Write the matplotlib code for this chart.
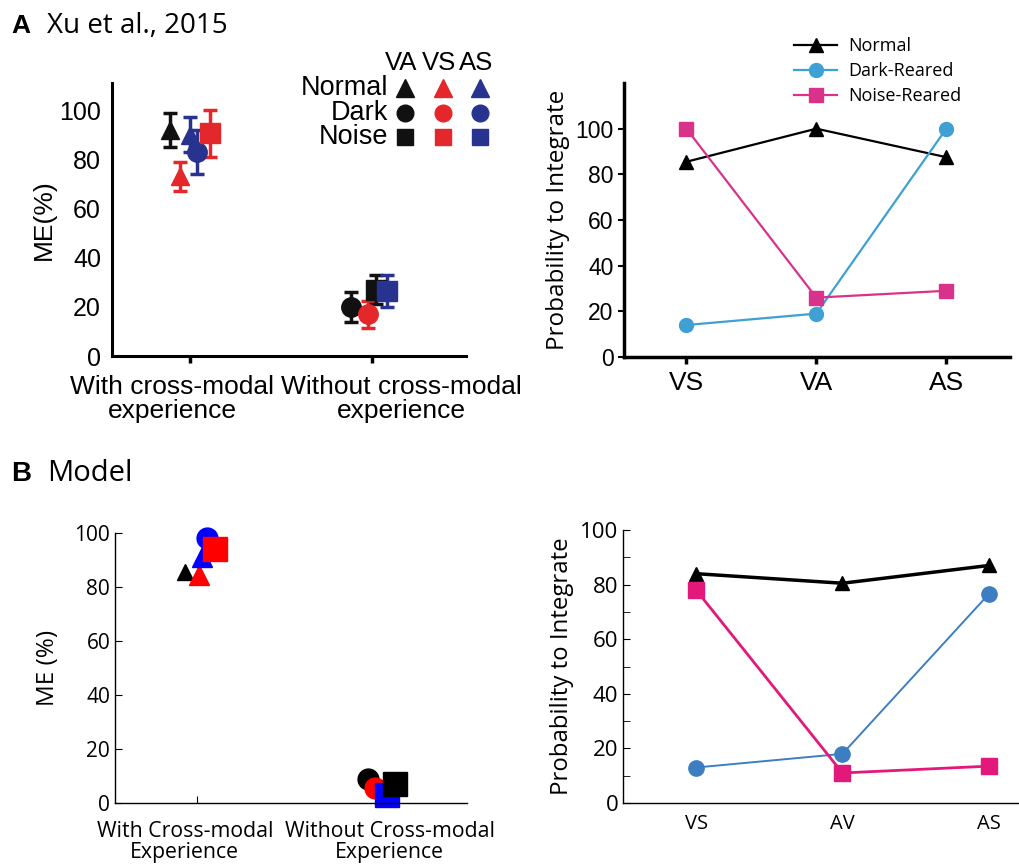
import numpy as np
import matplotlib.pyplot as plt
from matplotlib.ticker import MultipleLocator

W, H = 1019, 865
ARIAL = 'Liberation Sans'
MYRIAD = 'Open Sans'

# ---- Panel A left: Xu et al. 2015, ME(%) with error bars ----
a_cond = [0, 0, 0, 0, 0, 1, 1, 1, 1]
a_group = ['Normal', 'Normal', 'Normal', 'Dark', 'Noise', 'Dark', 'Dark', 'Noise', 'Noise']
a_mod = ['VA', 'VS', 'AS', 'AS', 'VS', 'VA', 'VS', 'VA', 'AS']
a_mean = [92, 73, 90, 83, 90.5, 20, 17, 27, 26.5]
a_err = [7, 6, 7, 9, 9.5, 6, 5.5, 6, 6.5]
a_jitter = [-0.11, -0.055, 0.0, 0.04, 0.11, -0.116, -0.022, 0.022, 0.083]
a_xlabels = ['With cross-modal\nexperience', 'Without cross-modal\nexperience']

# ---- Panel A right: probability to integrate ----
pairs_a = ['VS', 'VA', 'AS']
a_normal = [85.5, 100, 87.5]
a_dark = [14, 19, 100]
a_noise = [100, 26, 29]

# ---- Panel B left: model ME(%) ----
b_cond = [0, 0, 0, 0, 0, 1, 1, 1, 1]
b_group = ['Normal', 'Normal', 'Normal', 'Dark', 'Noise', 'Dark', 'Dark', 'Noise', 'Noise']
b_mod = ['VA', 'VS', 'AS', 'AS', 'VS', 'VA', 'VS', 'AS', 'VA']
b_mean = [85.5, 84.5, 91, 98, 94, 9, 5.5, 3, 7]
b_jitter = [-0.065, 0.01, 0.027, 0.054, 0.097, -0.08, -0.043, 0.02, 0.065]
b_xlabels = ['With Cross-modal\nExperience', 'Without Cross-modal\nExperience']

# ---- Panel B right: model probability to integrate ----
pairs_b = ['VS', 'AV', 'AS']
b_normal = [84, 80.5, 87]
b_dark = [13, 18, 76.5]
b_noise = [78, 11, 13.5]

groups = ['Normal', 'Dark', 'Noise']
mods = ['VA', 'VS', 'AS']
group_marker = {'Normal': '^', 'Dark': 'o', 'Noise': 's'}
a_colors = {'VA': '#111111', 'VS': '#e3272b', 'AS': '#27338f'}
b_colors = {'VA': '#000000', 'VS': '#ff0000', 'AS': '#0000ff'}


def px_axes(fig, x0, y0, x1, y1):
    # x0,y0 = top-left pixel; x1,y1 = bottom-right pixel
    return fig.add_axes([x0 / W, 1 - y1 / H, (x1 - x0) / W, (y1 - y0) / H])


fig = plt.figure(figsize=(W / 100, H / 100), dpi=100)

# panel titles
fig.text(11 / W, 1 - 33 / H, 'A', fontsize=19, fontweight='bold', family=ARIAL)
fig.text(47 / W, 1 - 33 / H, 'Xu et al., 2015', fontsize=20, family=MYRIAD)
fig.text(11 / W, 1 - 481 / H, 'B', fontsize=20, fontweight='bold', family=ARIAL)
fig.text(47 / W, 1 - 481 / H, 'Model', fontsize=21, family=MYRIAD)

# ======== A left ========
ax = px_axes(fig, 112, 83, 466, 356)
for c, g, m, y, e, j in zip(a_cond, a_group, a_mod, a_mean, a_err, a_jitter):
    ms = 13 if g == 'Normal' else 14
    ax.errorbar(c + j, y, yerr=e, fmt=group_marker[g], color=a_colors[m], ms=ms,
                capsize=5, capthick=2.5, elinewidth=2.5, clip_on=False)
ax.set_xlim(-0.43, 1.52)
ax.set_ylim(0, 111)
ax.set_yticks(np.arange(0, 101, 20))
ax.set_xticks([0, 1])
ax.set_xticklabels([])
for sp in ['top', 'right']:
    ax.spines[sp].set_visible(False)
for sp in ['left', 'bottom']:
    ax.spines[sp].set_linewidth(2.2)
ax.tick_params(axis='y', length=0, labelsize=18, pad=8)
ax.tick_params(axis='x', length=5, width=2.5)
for lab in ax.get_yticklabels():
    lab.set_family(ARIAL)
ax.set_ylabel('ME(%)', fontsize=19, family=ARIAL, labelpad=2)
for i, lab in enumerate(a_xlabels):
    xc = [-0.1, 1.166][i]
    ax.text(xc, -0.07, lab, transform=ax.get_xaxis_transform(), ha='center', va='top',
            fontsize=19, family=ARIAL, linespacing=1.0)

# symbol key for A left
kx = px_axes(fig, 367.5, 51.25, 517.5, 149.25)
kx.set_xlim(-1, 3)
kx.set_ylim(2.5, -1.5)
kx.axis('off')
for i, g in enumerate(groups):
    kx.text(-0.45, i, g, ha='right', va='center', fontsize=19.5, family=ARIAL)
    for j, m in enumerate(mods):
        kx.plot(j, i, group_marker[g], color=a_colors[m], ms=12 if g != 'Normal' else 12.5)
for j, m in enumerate(mods):
    kx.text(j - 0.1, -1, m, ha='center', va='center', fontsize=18.5, family=ARIAL)

# ======== A right ========
ax = px_axes(fig, 624, 83, 1010, 357)
xa = np.arange(len(pairs_a))
ax.plot(xa, a_normal, '-^', color='black', lw=1.6, ms=10, label='Normal')
ax.plot(xa, a_dark, '-o', color='#3fa0d4', lw=1.6, ms=10, label='Dark-Reared')
ax.plot(xa, a_noise, '-s', color='#d8328a', lw=1.6, ms=10, label='Noise-Reared')
ax.set_xlim(-0.48, 2.49)
ax.set_ylim(0, 120)
ax.set_yticks(np.arange(0, 101, 20))
ax.set_xticks(xa)
ax.set_xticklabels(pairs_a, family=ARIAL, fontsize=19)
for sp in ['top', 'right']:
    ax.spines[sp].set_visible(False)
for sp in ['left', 'bottom']:
    ax.spines[sp].set_linewidth(2.5)
ax.tick_params(axis='y', length=4, width=1.5, labelsize=16.5)
ax.tick_params(axis='x', length=5, width=2.5, pad=5)
for lab in ax.get_yticklabels():
    lab.set_family(ARIAL)
ax.set_ylabel('Probability to Integrate', fontsize=17.5, family=MYRIAD, labelpad=4)
ax.legend(loc='upper left', bbox_to_anchor=(785 / W, 1 - 28 / H),
          bbox_transform=fig.transFigure, frameon=False, handlelength=2.4,
          labelspacing=0.4, borderpad=0, handletextpad=0.6,
          prop={'family': MYRIAD, 'size': 13})

# ======== B left ========
ax = px_axes(fig, 115, 533, 467, 803)
for c, g, m, y, j in zip(b_cond, b_group, b_mod, b_mean, b_jitter):
    ms = {'^': 15, 'o': 15, 's': 17}[group_marker[g]]
    if c == 0 and m == 'VA':
        ms = 12
    ax.plot(c + j, y, group_marker[g], color=b_colors[m], ms=ms, clip_on=False)
ax.set_xlim(-0.44, 1.45)
ax.set_ylim(0, 100)
ax.set_yticks(np.arange(0, 101, 20))
ax.set_xticks([0])
ax.set_xticklabels([])
for sp in ['top', 'right']:
    ax.spines[sp].set_visible(False)
for sp in ['left', 'bottom']:
    ax.spines[sp].set_linewidth(1.0)
ax.tick_params(axis='both', direction='in', length=5, labelsize=15)
for lab in ax.get_yticklabels():
    lab.set_family(MYRIAD)
ax.set_ylabel('ME (%)', fontsize=17.5, family=MYRIAD, labelpad=10)
for i, lab in enumerate(b_xlabels):
    xc = [-0.065, 1.035][i]
    ax.text(xc, -0.068, lab, transform=ax.get_xaxis_transform(), ha='center', va='top',
            fontsize=15.3, family=MYRIAD, linespacing=0.95)

# ======== B right ========
ax = px_axes(fig, 623, 530, 1018, 803)
xb = np.arange(len(pairs_b))
ax.plot(xb, b_normal, '-^', color='black', lw=2.5, ms=10, clip_on=False)
ax.plot(xb, b_dark, '-o', color='#3d7ec2', lw=1.4, ms=11, clip_on=False)
ax.plot(xb, b_noise, '-s', color='#e3187b', lw=2.0, ms=11, clip_on=False)
ax.set_xlim(-0.5, 2.2)
ax.set_ylim(0, 100)
ax.set_yticks(np.arange(0, 101, 20))
ax.yaxis.set_minor_locator(MultipleLocator(10))
ax.set_xticks(xb)
ax.set_xticklabels(pairs_b, family=MYRIAD, fontsize=14.5)
for sp in ['top', 'right']:
    ax.spines[sp].set_visible(False)
for sp in ['left', 'bottom']:
    ax.spines[sp].set_linewidth(1.0)
ax.tick_params(axis='y', which='both', direction='in', length=5, labelsize=16)
ax.tick_params(axis='x', length=0, pad=8)
for lab in ax.get_yticklabels():
    lab.set_family(MYRIAD)
ax.set_ylabel('Probability to Integrate', fontsize=17.3, family=MYRIAD, labelpad=4)

fig.savefig('out.png', dpi=100)
